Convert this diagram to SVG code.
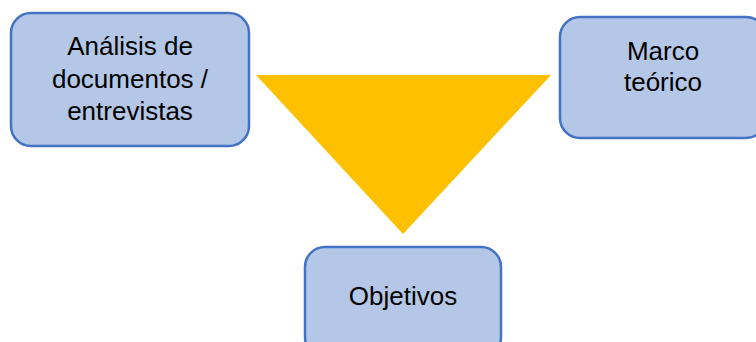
<svg xmlns="http://www.w3.org/2000/svg" width="756" height="342" viewBox="0 0 756 342">
<style>
.box{fill:#B4C7E7;stroke:#4472C4;stroke-width:2.5}
.t{font-family:"Liberation Sans",Arial,sans-serif;font-size:26px;fill:#000;text-anchor:middle}
</style>
<rect width="756" height="342" fill="#fff"/>
<g id="triangle"><polygon points="256,75 551,75 403,234" fill="#FFC000"/></g>
<g id="analisis"><rect class="box" x="11" y="13" width="238" height="133" rx="20"/>
<text class="t" x="130" y="55">Análisis de</text>
<text class="t" x="130" y="88">documentos /</text>
<text class="t" x="130" y="120">entrevistas</text></g>
<g id="marco"><rect class="box" x="560" y="17" width="206" height="121" rx="20"/>
<text class="t" x="663" y="60">Marco</text>
<text class="t" x="663" y="91">teórico</text></g>
<g id="objetivos"><rect class="box" x="305" y="247" width="196" height="110" rx="20"/>
<text class="t" x="403" y="305">Objetivos</text></g>
<g id="connectors"></g>
</svg>
